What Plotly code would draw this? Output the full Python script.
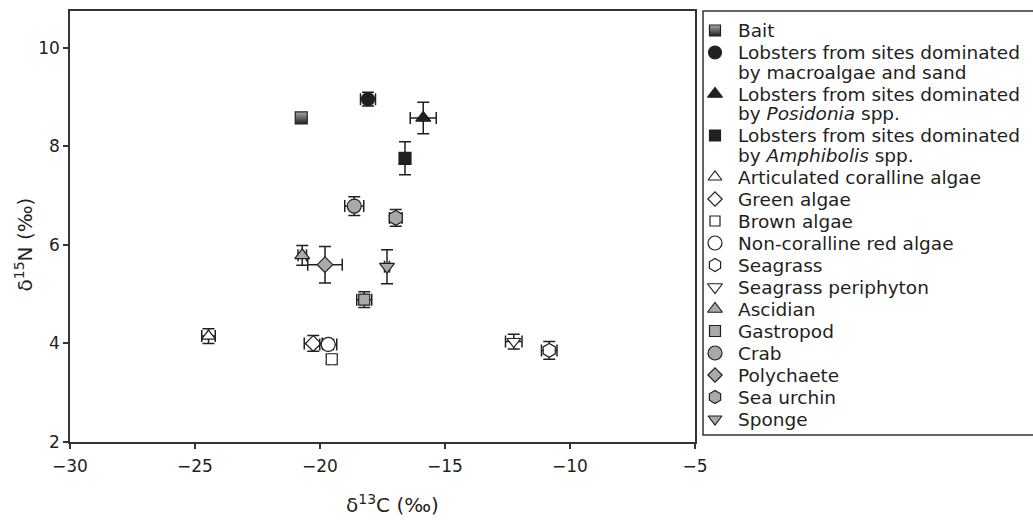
import plotly.graph_objects as go

# ---- data ----
groups = [
    "Bait",
    "Lobsters from sites dominated<br>by macroalgae and sand",
    "Lobsters from sites dominated<br>by <i>Posidonia</i> spp.",
    "Lobsters from sites dominated<br>by <i>Amphibolis</i> spp.",
    "Articulated coralline algae",
    "Green algae",
    "Brown algae",
    "Non-coralline red algae",
    "Seagrass",
    "Seagrass periphyton",
    "Ascidian",
    "Gastropod",
    "Crab",
    "Polychaete",
    "Sea urchin",
    "Sponge",
]
d13C = [-20.75, -18.08, -15.87, -16.60, -24.46, -20.27, -19.53, -19.67,
        -10.83, -12.25, -20.71, -18.23, -18.63, -19.80, -16.97, -17.32]
d15N = [8.58, 8.96, 8.58, 7.76, 4.15, 4.00, 3.68, 3.98,
        3.86, 4.04, 5.79, 4.89, 6.79, 5.60, 6.55, 5.56]
d13C_err = [0.0, 0.30, 0.52, 0.15, 0.27, 0.36, 0.12, 0.34,
            0.31, 0.33, 0.17, 0.30, 0.38, 0.69, 0.25, 0.10]
d15N_err = [0.0, 0.14, 0.32, 0.335, 0.15, 0.16, 0.08, 0.10,
            0.18, 0.15, 0.20, 0.16, 0.19, 0.37, 0.17, 0.345]

x_ticks = [-30, -25, -20, -15, -10, -5]
y_ticks = [2, 4, 6, 8, 10]

# ---- styles ----
INK = "#231f20"
LINE = "#333333"
GREY = "#a7a9ac"
WHITE = "#ffffff"
styles = [
    ("square", GREY, 12),
    ("circle", INK, 13),
    ("triangle-up", INK, 13),
    ("square", INK, 12),
    ("triangle-up", WHITE, 12),
    ("diamond", WHITE, 12),
    ("square", WHITE, 11),
    ("circle", WHITE, 14),
    ("hexagon", WHITE, 14),
    ("triangle-down", WHITE, 12),
    ("triangle-up", GREY, 13),
    ("square", GREY, 11),
    ("circle", GREY, 14),
    ("diamond", GREY, 12),
    ("hexagon", GREY, 15),
    ("triangle-down", GREY, 13),
]
legend_sizes = [11, 13, 13, 11, 12, 11, 10, 14, 13, 13, 13, 11, 14, 11, 13, 12]

FONT = "DejaVu Sans, Verdana, sans-serif"

# ---- page geometry (pixels) ----
W, H = 1033, 522
ML, MT, MB = 70, 11, 80
PLOT_W = 625
PLOT_H = H - MT - MB           # 431
PAPER_W = W - ML               # 963
LEG_LEFT = 703                 # legend frame left edge (px)
LEG_BOTTOM = 435               # legend frame bottom edge (px)
LEG_W = W - LEG_LEFT


def make_marker(i, size):
    sym, col, _ = styles[i]
    m = dict(symbol=sym, color=col, size=size, opacity=1,
             line=dict(color=INK, width=1.2))
    if i == 0:
        m["gradient"] = dict(type="vertical", color=INK)
    return m


fig = go.Figure()
for i, name in enumerate(groups):
    fig.add_trace(go.Scatter(
        x=[d13C[i]], y=[d15N[i]], name=name.replace("<br>", " "),
        mode="markers", marker=make_marker(i, styles[i][2]), showlegend=False,
        error_x=dict(type="data", array=[d13C_err[i]], visible=d13C_err[i] > 0,
                     color=INK, thickness=1.5, width=6),
        error_y=dict(type="data", array=[d15N_err[i]], visible=d15N_err[i] > 0,
                     color=INK, thickness=1.5, width=6),
        xaxis="x", yaxis="y",
    ))

# ---- legend (drawn in a helper pixel-unit subplot) ----
ENTRY_STEP, LINE_STEP = 22.0, 19.5
y = 30.5 - MT
ann = []
for i, name in enumerate(groups):
    lines = name.split("<br>")
    fig.add_trace(go.Scatter(
        x=[12], y=[y], mode="markers", showlegend=False, hoverinfo="skip",
        xaxis="x2", yaxis="y2", marker=make_marker(i, legend_sizes[i]),
    ))
    for k, line in enumerate(lines):
        ann.append(dict(x=33, y=y + k * LINE_STEP, xref="x2", yref="y2",
                        text=line, showarrow=False, xanchor="left",
                        yanchor="middle",
                        font=dict(family=FONT, size=18.5, color=INK)))
    y += (len(lines) - 1) * LINE_STEP + ENTRY_STEP

axis_common = dict(
    showline=True, mirror=True, linecolor=LINE, linewidth=1.5,
    ticks="outside", ticklen=5, tickwidth=1.5, tickcolor=LINE,
    showgrid=False, zeroline=False,
    tickfont=dict(family=FONT, size=17, color=INK),
)

fig.update_layout(
    xaxis=dict(domain=[0, PLOT_W / PAPER_W], range=[-30, -5], tickvals=x_ticks,
               anchor="y", ticklabelstandoff=3, **axis_common),
    yaxis=dict(domain=[0, 1], range=[2, 10.75], tickvals=y_ticks,
               anchor="x", **axis_common),
    xaxis2=dict(domain=[(LEG_LEFT - ML) / PAPER_W, 1], range=[0, LEG_W],
                visible=False, anchor="y2", fixedrange=True),
    yaxis2=dict(domain=[0, 1], range=[PLOT_H, 0], visible=False,
                anchor="x2", fixedrange=True),
)

# axis titles
ann.append(dict(x=(392 - ML) / PAPER_W, y=(MT + PLOT_H - 504) / PLOT_H,
                xref="paper", yref="paper", text="δ<sup>13</sup>C (‰)",
                showarrow=False, xanchor="center", yanchor="middle",
                font=dict(family=FONT, size=20, color=INK)))
ann.append(dict(x=(23 - ML) / PAPER_W, y=(MT + PLOT_H - 244.5) / PLOT_H,
                xref="paper", yref="paper", text="δ<sup>15</sup>N (‰)",
                showarrow=False, xanchor="center", yanchor="middle",
                textangle=-90,
                font=dict(family=FONT, size=20, color=INK)))

# legend frame
fig.add_shape(type="rect", xref="paper", yref="paper",
              x0=(LEG_LEFT - ML) / PAPER_W, x1=1.03,
              y0=(MT + PLOT_H - LEG_BOTTOM) / PLOT_H, y1=1.0,
              line=dict(color=LINE, width=1.5), fillcolor="rgba(0,0,0,0)")

fig.update_layout(
    width=W, height=H,
    margin=dict(l=ML, r=0, t=MT, b=MB, autoexpand=False),
    plot_bgcolor="white", paper_bgcolor="white",
    font=dict(family=FONT, color=INK),
    showlegend=False,
    hovermode=False,
    annotations=ann,
)

fig.write_html("out.html", config={"displayModeBar": False},
               post_script="document.body.style.margin='0px';")
